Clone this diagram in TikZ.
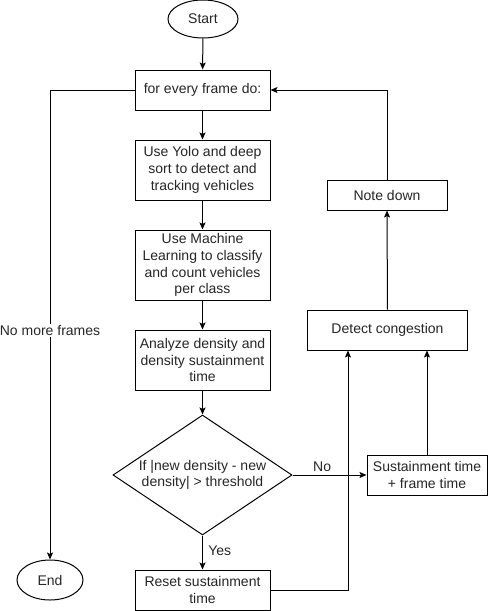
\documentclass[tikz,border=0pt]{standalone}
\usepackage{fontspec}
\setmainfont{Liberation Sans}
\usetikzlibrary{shapes.geometric,arrows.meta}
\begin{document}
\begin{tikzpicture}[x=1pt,y=-1pt,
  font=\fontsize{14}{16.8}\selectfont,
  txt/.style={text=black!85},
  box/.style={draw,line width=1pt,fill=white,inner sep=0pt,align=center,txt},
  term/.style={draw,ellipse,line width=1pt,inner sep=0pt,txt},
  line/.style={line width=1pt},
  arr/.style={line,-{Stealth[length=7pt,width=6pt,inset=1.5pt]}},
  lbl/.style={fill=white,inner sep=1pt,txt}]
\useasboundingbox (0,0) rectangle (488,611);

% terminals
\node[term,minimum width=70,minimum height=38] (start) at (203,19) {Start};
\node[term,minimum width=66,minimum height=40] (end) at (50,580) {End};

% main column
\node[box,minimum width=135,minimum height=40] (frame) at (202.5,90) {for every frame do:};
\node[box,minimum width=135,minimum height=60] (yolo) at (202.5,170) {Use Yolo and deep\\sort to detect and\\tracking vehicles};
\node[box,minimum width=135,minimum height=70] (ml) at (202.5,265) {Use Machine\\Learning to classify\\and count vehicles\\per class};
\node[box,minimum width=135,minimum height=60] (ana) at (202.5,360) {Analyze density and\\density sustainment\\time};
\node[draw,diamond,line width=1pt,inner sep=0pt,minimum width=179,minimum height=120] (dec) at (202.5,475) {};
\node[align=center,txt] (dectext) at (dec.center) {If |new density - new\\density| {>} threshold};
\node[box,minimum width=135,minimum height=40] (reset) at (202.5,590) {Reset sustainment\\time};

% right column
\node[box,minimum width=120,minimum height=40] (sus) at (427,475) {Sustainment time\\+ frame time};
\node[box,minimum width=160,minimum height=40] (detect) at (387.5,330) {Detect congestion};
\node[box,minimum width=120,minimum height=30] (note) at (387,195) {Note down};

% flow
\draw[arr] (start) -- (frame);
\draw[arr] (frame) -- (yolo);
\draw[arr] (yolo) -- (ml);
\draw[arr] (ml) -- (ana);
\draw[arr] (ana) -- (dec.north);
\draw[arr] (dec.south) -- node[right,pos=0.45,txt,xshift=2pt] {Yes} (reset);
\draw[arr] (dec.east) -- node[above,pos=0.4,txt] {No} (sus.west);
\draw[arr] (reset.east) -| ([xshift=-39.5pt]detect.south);
\draw[arr] (sus.north) -- (sus.north |- detect.south);
\draw[arr] (detect.north) -- (note.south);
\draw[arr] (note.north) |- (frame.east);
\draw[arr] (frame.west) -| node[lbl,pos=0.756] {No more frames} (end.north);
\end{tikzpicture}
\end{document}
